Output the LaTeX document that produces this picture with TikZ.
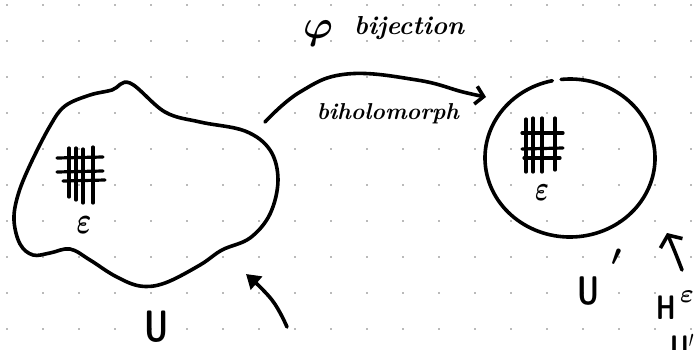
\RequirePackage{fix-cm}
\documentclass[tikz,border=0pt]{standalone}
\usetikzlibrary{arrows.meta}
\newcommand{\tallglyph}[1]{\scalebox{1}[1.35]{#1}}
\newcommand{\narrowglyph}[1]{\scalebox{0.72}[1]{#1}}
\begin{document}
\begin{tikzpicture}[x=1pt,y=-1pt,
  ink/.style={line width=3.6pt,line cap=round,line join=round,black},
  hatch/.style={line width=3.2pt,line cap=round},
  lbl/.style={inner sep=0pt,text=black},
  gdot/.style={fill=black!55}]
\useasboundingbox (0,0) rectangle (699,349);
\clip (0,0) rectangle (699,349);
% dotted paper
\foreach \i in {0,...,19}
  \foreach \j in {0,...,9}
    \fill[gdot] (7+36*\i,5+36*\j) circle (0.9pt);

% the open set U
\draw[ink] plot[smooth cycle,tension=0.6] coordinates {
  (130,83) (165,112) (200,122) (245,131) (270,150) (278,180) (270,214)
  (250,238) (222,250) (200,265) (165,283) (140,286) (115,276) (90,260)
  (70,249) (50,253) (33,255) (20,244) (14,220) (18,195) (30,165)
  (50,126) (65,106) (90,95) (112,90)};
\coordinate (Uedge) at (265,122);

% grid inside U
\foreach \x/\a/\b in {69/148/197,76/148/200,83/149/203,93/147/203}
  \draw[hatch] (\x,\a) -- (\x,\b);
\draw[hatch] (57,158) -- (103,157);
\draw[hatch] (57,172) -- (103,171);
\draw[hatch] (63,181) -- (105,180);
\node[lbl,font=\boldmath\fontsize{28}{28}\selectfont] (epsL) at (84,225) {\tallglyph{$\varepsilon$}};

% the open set U'
\coordinate (Vc) at (570,158);
\draw[ink] ([shift={(102:85pt and 79pt)}]Vc) arc[start angle=102,end angle=456,x radius=85pt,y radius=79pt];
\coordinate (Vedge) at (486,97);

% grid inside U'
\foreach \x/\a/\b in {526/119/172,533/118/172,542/118/172,555/118/170}
  \draw[hatch] (\x,\a) -- (\x,\b);
\draw[hatch] (522,133) -- (563,133);
\draw[hatch] (522,149) -- (563,148);
\draw[hatch] (524,158) -- (560,158);
\node[lbl,font=\boldmath\fontsize{26}{26}\selectfont] (epsR) at (542,193) {\tallglyph{$\varepsilon$}};

% the map between them
\draw[ink,-{Straight Barb[length=8pt,width=18pt,line width=3.6pt]}]
  plot[smooth,tension=0.7] coordinates {(Uedge) (300,92) (347,74) (417,80) (463,92) (Vedge)};
\node[lbl,font=\boldmath\fontsize{40}{40}\selectfont] (phi) at (318,33) {$\varphi$};
\node[lbl,font=\bfseries\itshape\fontsize{26}{26}\selectfont] (bij) at (409,28) {bijection};
\node[lbl,font=\bfseries\itshape\fontsize{23}{23}\selectfont] (bihol) at (388,114) {biholomorph};

% labels of the sets
\node[lbl,font=\sffamily\bfseries\fontsize{44}{44}\selectfont] (Ulab) at (157,327) {\narrowglyph{U}};
\node[lbl,font=\sffamily\bfseries\fontsize{40}{40}\selectfont] (Vlab) at (588,291) {\narrowglyph{U}};
\node[lbl,font=\boldmath\fontsize{42}{42}\selectfont] (Vprime) at (617,265) {$'$};

% pointer to U
\coordinate (Ptail) at (287,327);
\coordinate (Phead) at (246,274);
\draw[ink,-{Triangle[length=14pt,width=17pt]}]
  plot[smooth,tension=0.7] coordinates {(Ptail) (272,300) (Phead)};

% pointer to U'
\coordinate (Qtail) at (682,270);
\coordinate (Qhead) at (667,233);
\draw[ink,-{Straight Barb[length=9pt,width=24pt,line width=3.6pt]}]
  plot[smooth,tension=0.7] coordinates {(Qtail) (675,252) (Qhead)};
\node[lbl,font=\sffamily\bfseries\fontsize{34}{34}\selectfont] (Hlab) at (666,308) {\narrowglyph{H}};
\node[lbl,font=\boldmath\fontsize{26}{26}\selectfont] (Heps) at (687,297) {$\varepsilon$};
\node[lbl,font=\sffamily\bfseries\fontsize{34}{34}\selectfont,anchor=north] (Hset) at (682,334) {\narrowglyph{U$'$}};
\end{tikzpicture}
\end{document}
